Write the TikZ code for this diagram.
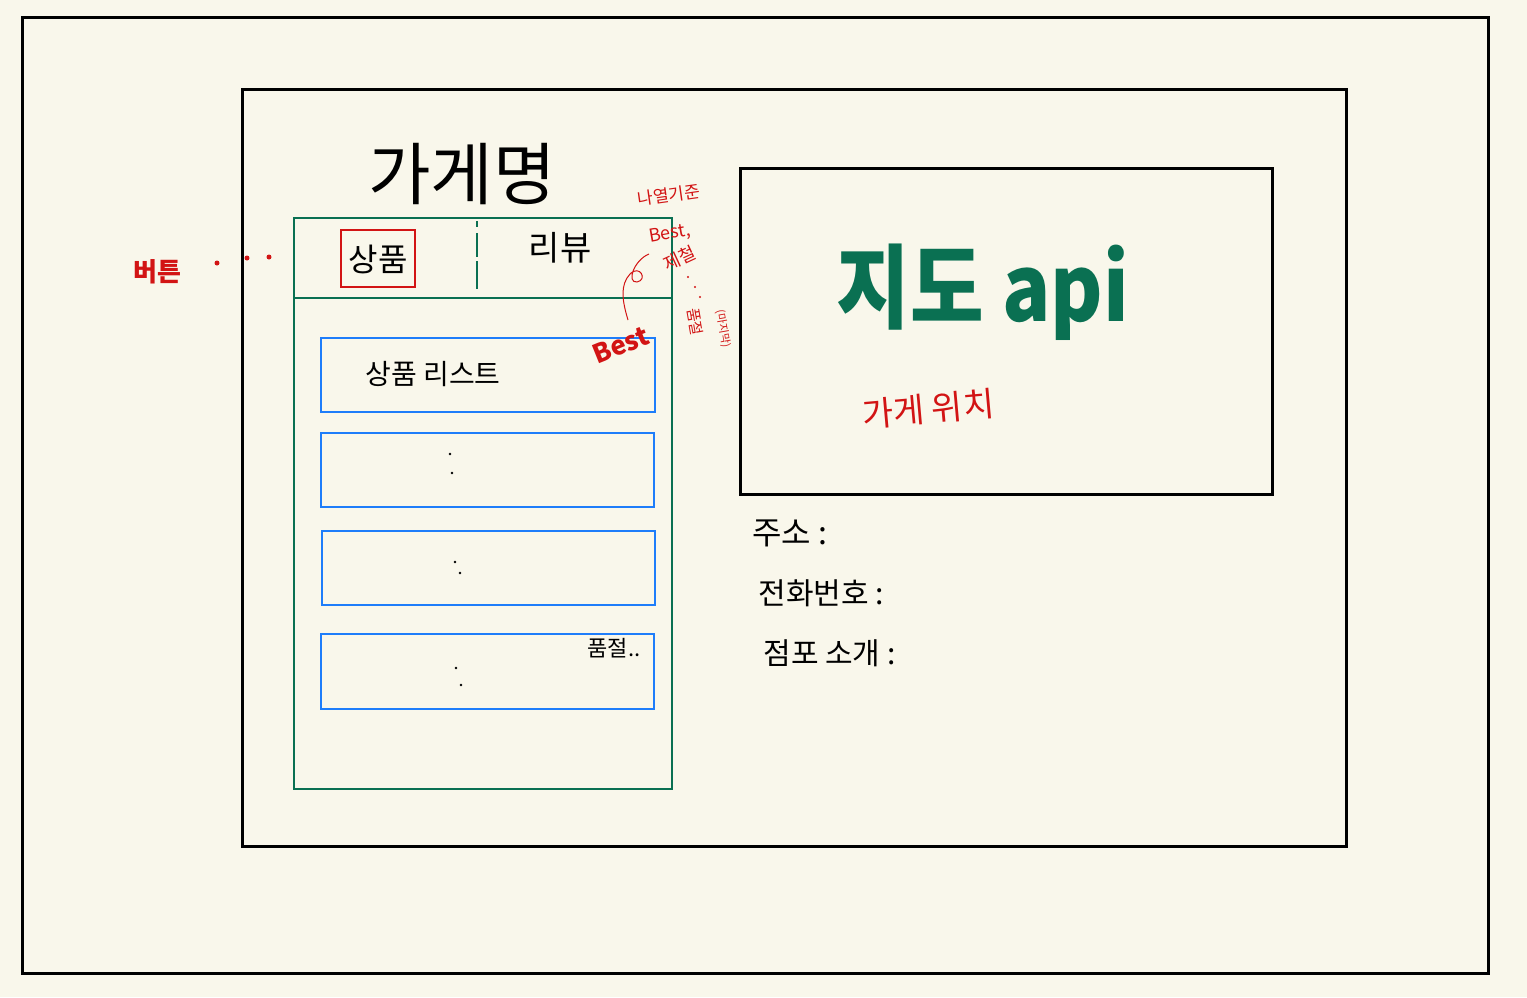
\documentclass[tikz,border=0pt]{standalone}
\usepackage{fontspec}
\setmainfont{Noto Sans CJK KR}
\usetikzlibrary{fit}
\definecolor{bg}{RGB}{249,247,235}
\definecolor{grn}{RGB}{10,112,82}
\definecolor{blu}{RGB}{30,125,250}
\definecolor{rd}{RGB}{210,20,20}
\begin{document}
\begin{tikzpicture}[x=0.5pt,y=-0.5pt,
  frame/.style={draw=black, line width=1.5pt, inner sep=0pt},
  panel/.style={draw=grn, line width=1.1pt, inner sep=0pt},
  item/.style={draw=blu, line width=1.4pt, inner sep=0pt},
  btnbox/.style={draw=rd, line width=1.2pt, inner sep=0pt},
  hand/.style={inner sep=0pt, text=black},
  note/.style={inner sep=0pt, text=rd},
  dotmark/.style={fill=#1, circle, inner sep=0pt, minimum size=2.5pt}]
\fill[bg] (0,0) rectangle (1527,997);
\useasboundingbox (0,0) rectangle (1527,997);
% frames
\node[frame, fit={(22,17) (1488,973)}] (outer) {};
\node[frame, fit={(242,89) (1346,846)}] (page) {};
\node[frame, fit={(740,168) (1272,494)}] (map) {};
% green panel
\node[panel, fit={(294,218) (672,789)}] (panel) {};
\coordinate (divL) at (294,298);
\coordinate (divR) at (672,298);
\draw[grn, line width=1.1pt] (divL) -- (divR);
\coordinate (dashT) at (477,221);
\coordinate (dashB) at (477,293);
\draw[grn, line width=1.2pt, dash pattern=on 3pt off 3pt on 12pt off 2pt on 14pt off 2pt] (dashT) -- (dashB);
% tab button
\node[btnbox, fit={(341,230) (415,287)}] (tabbox) {};
\node[hand, font=\fontsize{16}{16}\selectfont] (tab1) at (378,259) {상품};
\node[hand, font=\fontsize{17}{17}\selectfont] (tab2) at (560,248) {리뷰};
% store name
\node[hand, font=\fontsize{34}{34}\selectfont] (title) at (462,174) {가게명};
% list items
\node[item, fit={(321,338) (655,412)}] (item1) {};
\node[item, fit={(321,433) (654,507)}] (item2) {};
\node[item, fit={(322,531) (655,605)}] (item3) {};
\node[item, fit={(321,634) (654,709)}] (item4) {};
\node[hand, font=\fontsize{14}{14}\selectfont] (listlbl) at (433,374) {상품 리스트};
\node[hand, font=\fontsize{11}{11}\selectfont] (soldout) at (614,648) {품절..};
% tiny marks inside items
\node[dotmark=black, minimum size=1.3pt] (m1) at (450,454) {};
\node[dotmark=black, minimum size=1.3pt] (m2) at (452,473) {};
\node[dotmark=black, minimum size=1.3pt] (m3) at (455,562) {};
\node[dotmark=black, minimum size=1.3pt] (m4) at (460,573) {};
\node[dotmark=black, minimum size=1.3pt] (m5) at (456,668) {};
\node[dotmark=black, minimum size=1.3pt] (m6) at (461,685) {};
% button label
\node[note, font=\fontsize{13}{13}\selectfont\bfseries] (btnlbl) at (157,272) {버튼};
\node[dotmark=rd] (d1) at (217,263) {};
\node[dotmark=rd] (d2) at (247,258) {};
\node[dotmark=rd] (d3) at (269,257) {};
% Best mark
\node[note, font=\fontsize{13}{13}\selectfont\bfseries, rotate=22] (best) at (621,345) {Best};
% sorting note
\node[note, font=\fontsize{8.5}{8.5}\selectfont, rotate=8] (sort) at (669,195) {나열기준};
\node[note, font=\fontsize{9}{9}\selectfont, rotate=10] (nbest) at (670,234) {Best,};
\node[note, font=\fontsize{9}{9}\selectfont, rotate=25] (season) at (680,258) {제철};
\node[dotmark=rd, minimum size=1.2pt] (e1) at (688,277) {};
\node[dotmark=rd, minimum size=1.2pt] (e2) at (695,287) {};
\node[dotmark=rd, minimum size=1.2pt] (e3) at (700,297) {};
\node[note, font=\fontsize{7.5}{7.5}\selectfont, rotate=-80] (nsold) at (695,322) {품절};
\node[note, font=\fontsize{5.5}{5.5}\selectfont, rotate=-80] (nlast) at (723,329) {(마지막)};
\coordinate (curveStart) at (628,320);
\coordinate (curveEnd) at (649,254);
\draw[rd, line width=0.5pt] (curveStart) .. controls (622,300) and (620,285) .. (630,274)
   .. controls (640,264) and (648,280) .. (637,282)
   .. controls (626,283) and (634,260) .. (curveEnd);
% map
\node[inner sep=0pt, text=grn, font=\fontsize{40}{40}\selectfont\bfseries, yscale=1.15] (maplbl) at (983,292) {지도 api};
\node[note, font=\fontsize{17}{17}\selectfont, rotate=5] (loc) at (928,409) {가게 위치};
% info
\node[hand, anchor=west, font=\fontsize{16}{16}\selectfont] (addr) at (752,533) {주소 :};
\node[hand, anchor=west, font=\fontsize{15}{15}\selectfont] (tel) at (758,593) {전화번호 :};
\node[hand, anchor=west, font=\fontsize{15}{15}\selectfont] (intro) at (763,653) {점포 소개 :};
\end{tikzpicture}
\end{document}
